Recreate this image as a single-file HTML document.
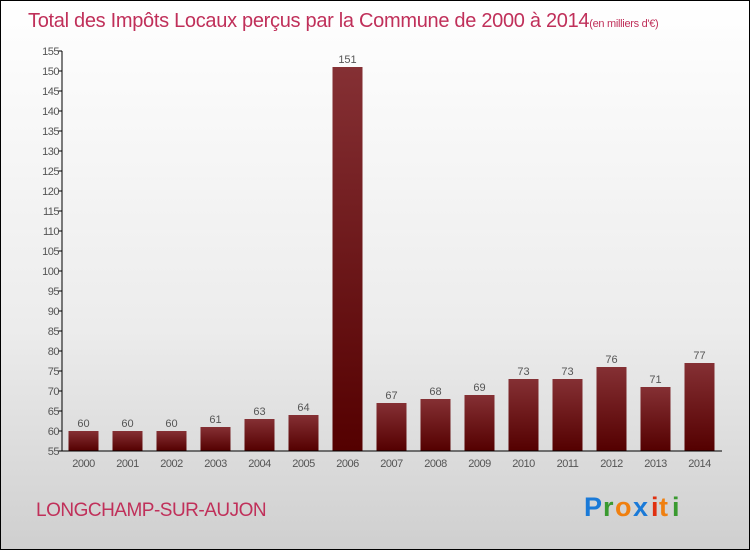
<!DOCTYPE html>
<html><head><meta charset="utf-8"><style>
body{margin:0}
#c{position:relative;width:748px;height:548px;border:1px solid #000;background:linear-gradient(#fff,#fafafa 15%,#ececec 60%,#cfcfcf);font-family:"Liberation Sans",sans-serif;overflow:hidden}
</style></head><body>
<div id="c">
<svg width="748" height="548">
<defs><linearGradient id="g" x1="0" y1="0" x2="0" y2="1"><stop offset="0" stop-color="#853034"/><stop offset="1" stop-color="#540000"/></linearGradient></defs>
<text x="27" y="26" font-size="20" fill="#c0305a" letter-spacing="-0.3">Total des Impôts Locaux perçus par la Commune de 2000 à 2014<tspan font-size="11">(en milliers d'€)</tspan></text>
<g id="yax"></g>
<g id="bars"></g>
<g id="xax"></g>
<text x="35" y="515" font-size="19" fill="#c0305a" letter-spacing="-0.5">LONGCHAMP-SUR-AUJON</text>
<g font-size="27" font-weight="bold">
<text x="583" y="515" fill="#1a7ad8">P</text><text x="602" y="515" fill="#3a9a30">r</text><text x="614" y="515" fill="#f08010">o</text><text x="632" y="515" fill="#1a7ad8">x</text><text x="650" y="515" fill="#e03010">i</text><text x="658" y="515" fill="#f08010">t</text><text x="671" y="515" fill="#3a9a30">i</text>
</g>
</svg>
</div>
<script>
const years=["2000","2001","2002","2003","2004","2005","2006","2007","2008","2009","2010","2011","2012","2013","2014"];
const values=[60,60,60,61,63,64,151,67,68,69,73,73,76,71,77];
const yTicks=[55,60,65,70,75,80,85,90,95,100,105,110,115,120,125,130,135,140,145,150,155];
const NS="http://www.w3.org/2000/svg";
const y=v=>450-(v-55)*4;
const x=i=>82.5+i*44;
function mk(t,a,p,txt){const e=document.createElementNS(NS,t);for(const k in a)e.setAttribute(k,a[k]);if(txt!=null)e.textContent=txt;p.appendChild(e);return e;}
const ya=document.getElementById('yax'),xa=document.getElementById('xax'),bg=document.getElementById('bars');
const yl=mk('line',{x1:61,y1:50,x2:61,y2:450,stroke:'#000'},ya);


yTicks.forEach(t=>{
 const l=mk('line',{x1:57,x2:61,y1:y(t),y2:y(t),stroke:'#000'},ya);
 
 
 const tx=mk('text',{x:58,y:y(t)+4,'text-anchor':'end','font-size':11,fill:'#555','letter-spacing':'-0.5'},ya,t);
 
 
});
const xl=mk('line',{x1:61,y1:450,x2:721,y2:450,stroke:'#000'},xa);


years.forEach((yr,i)=>{
 const r=mk('rect',{x:x(i)-15,y:y(values[i]),width:30,height:450-y(values[i]),fill:'url(#g)'},bg);
 
 
 const v=mk('text',{x:x(i),y:y(values[i])-4,'text-anchor':'middle','font-size':11,fill:'#555'},bg,values[i]);
 
 
 const tl=mk('text',{x:x(i),y:466,'text-anchor':'middle','font-size':11,fill:'#555','letter-spacing':'-0.5'},xa,yr);
 
 
});
</script>
</body></html>
